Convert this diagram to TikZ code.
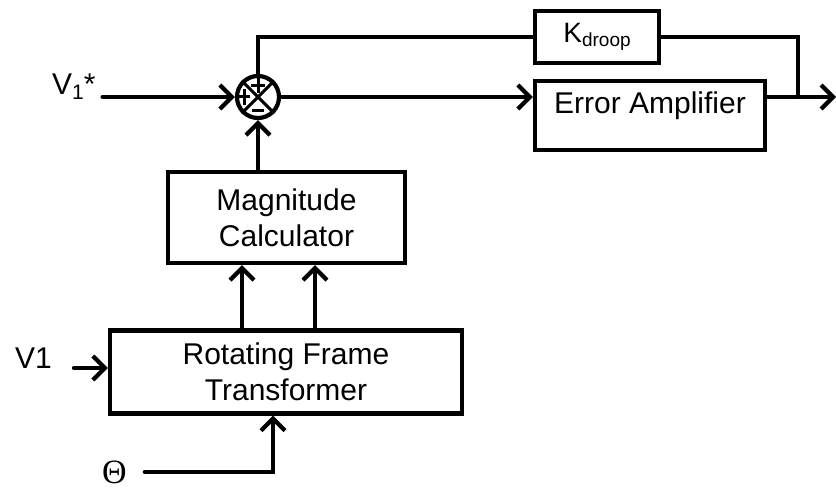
\documentclass[tikz,border=0pt]{standalone}
\usepackage{fontspec}
\setmainfont{Liberation Sans}
\newfontfamily\serifgr{Liberation Serif}
\usetikzlibrary{arrows.meta}
\begin{document}
\begin{tikzpicture}[x=1pt,y=-1pt,
  line width=4.2pt, line cap=round,
  box/.style={draw, rectangle, inner sep=0pt, line width=4.2pt, line cap=butt},
  arr/.style={-{Straight Barb[length=12pt,width=24pt]}},
  lbl/.style={inner sep=0pt, font=\fontsize{30}{36}\selectfont},
  symb/.style={line width=3pt, line cap=butt},
]
\useasboundingbox (0,0) rectangle (836,489);

% blocks
\node[box, minimum width=124pt, minimum height=52pt] (kbox) at (597,37)
  {\fontsize{28}{28}\selectfont K\raisebox{-4pt}{\fontsize{19}{19}\selectfont droop}};
\node[box, minimum width=230pt, minimum height=69pt] (ea) at (650,115.5) {};
\node[lbl, anchor=base] (eatext) at (650,114) {Error Amplifier};
\node[box, lbl, minimum width=237pt, minimum height=91pt, align=center] (mc) at (286.5,217.5) {Magnitude\\Calculator};
\node[box, lbl, minimum width=352pt, minimum height=83pt, align=center] (rft) at (286,372) {Rotating Frame\\Transformer};
\node[draw, circle, minimum size=42pt, inner sep=0pt] (sum) at (258,97) {};

% labels
\node[lbl, anchor=base west] (vref) at (50,95) {V\raisebox{-5pt}{\fontsize{21}{21}\selectfont 1}*};
\node[lbl, anchor=base west] (v1) at (13,368) {V1};
\node[inner sep=0pt, anchor=base west, font=\serifgr\fontsize{34}{34}\selectfont] (th) at (100,483) {Θ};

\coordinate (out) at (836,97);
\coordinate (tap) at (798,97);

% junction symbol
\draw[symb] (sum.north west) -- (sum.south east) (sum.north east) -- (sum.south west);
\draw[symb] ([shift={(0,-19)}]sum.center) -- ([shift={(0,-4)}]sum.center)
            ([shift={(-7,-11)}]sum.center) -- ([shift={(7,-11)}]sum.center);
\draw[symb] ([shift={(-20,0)}]sum.center) -- ([shift={(-8,0)}]sum.center)
            ([shift={(-14,-8)}]sum.center) -- ([shift={(-14,8)}]sum.center);
\draw[symb] ([shift={(-6,14)}]sum.center) -- ([shift={(6,14)}]sum.center);

% connectors
\draw[arr] ([xshift=5pt]vref.east |- sum.west) -- (sum.west);
\draw[arr] (sum.east) -- (sum.east -| ea.west);
\draw[arr] (ea.east |- sum.east) -- (out);
\draw (tap) |- (kbox.east);
\draw (kbox.west) -| (sum.north);
\draw[arr] (mc.north -| sum.south) -- (sum.south);
\draw[arr] ([xshift=-44.5pt]mc.south |- rft.north) -- ([xshift=-44.5pt]mc.south);
\draw[arr] ([xshift=28.5pt]mc.south |- rft.north) -- ([xshift=28.5pt]mc.south);
\draw[arr] ([xshift=20pt]v1.base east) -- (v1.base east -| rft.west);
\draw[arr] ([xshift=16pt]th.east) -| ([xshift=-13pt]rft.south);
\end{tikzpicture}
\end{document}
